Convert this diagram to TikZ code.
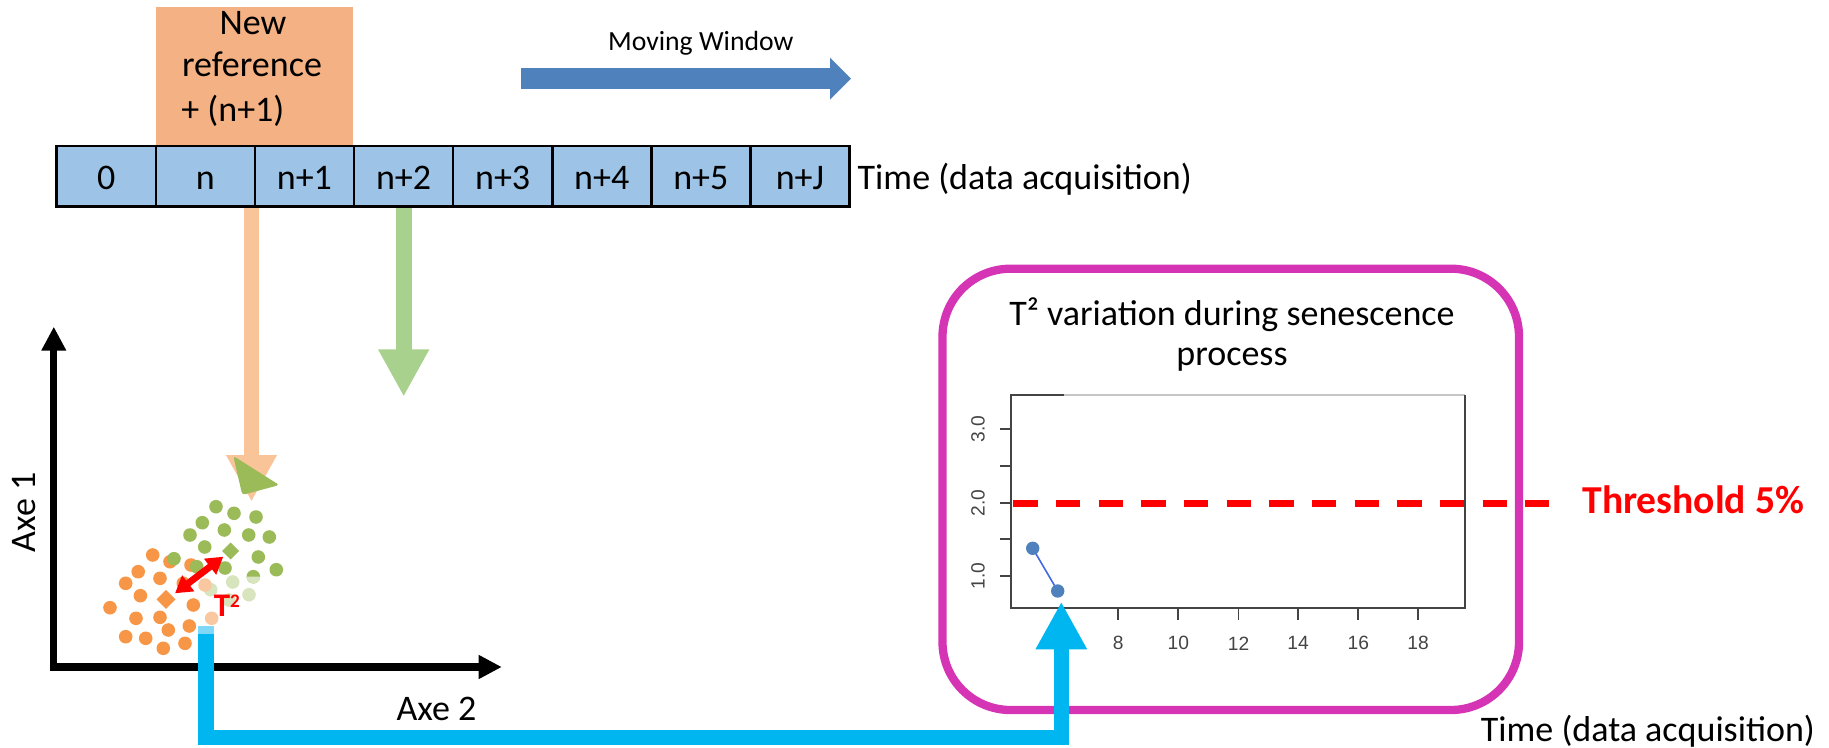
\documentclass[tikz,border=0pt]{standalone}
\usepackage{fontspec}
\setmainfont{Carlito}
\newfontfamily\plotfont{Liberation Sans}
\usetikzlibrary{arrows.meta}
\definecolor{cellblue}{RGB}{157,195,230}
\definecolor{refor}{RGB}{244,177,131}
\definecolor{movblue}{RGB}{79,129,189}
\definecolor{arrowor}{RGB}{248,196,152}
\definecolor{arrowgr}{RGB}{169,209,142}
\definecolor{dotor}{RGB}{247,150,70}
\definecolor{dotgr}{RGB}{155,187,89}
\definecolor{dotlg}{RGB}{215,228,189}
\definecolor{dotpe}{RGB}{250,200,160}
\definecolor{cyanc}{RGB}{0,182,240}
\definecolor{cyanl}{RGB}{128,216,248}
\definecolor{magc}{RGB}{213,53,180}
\definecolor{ptblue}{RGB}{79,129,189}
\definecolor{lineblue}{RGB}{65,105,225}
\definecolor{frameg}{RGB}{68,68,68}
\begin{document}
\begin{tikzpicture}[x=0.5pt,y=-0.5pt,
  txt/.style={inner sep=0pt, font=\fontsize{18}{20}\selectfont},
  cell/.style={draw=black, line width=1.3pt, fill=cellblue, minimum width=49.55pt,
    minimum height=30.35pt, inner sep=0pt, text height=13pt, text depth=0pt,
    font=\fontsize{18}{20}\selectfont},
  plotlbl/.style={inner sep=0pt, text=frameg, font=\plotfont\fontsize{9.6}{11}\selectfont},
  dot/.style={radius=3.4pt},
]
\useasboundingbox (0,0) rectangle (1829,748);

% ---------- orange "new reference" box
\node[fill=refor, minimum width=98.35pt, minimum height=69.65pt, inner sep=0pt] (newref) at (254.35,76.35) {};
\node[txt, anchor=base] (l1) at (253,35) {New};
\node[txt, anchor=base] (l2) at (252,77) {reference};
\node[txt, anchor=base west] (l3) at (181,122) {+ (n+1)};

% ---------- moving window
\node[inner sep=0pt, font=\fontsize{13.85}{16}\selectfont, anchor=base] (mwtxt) at (700.8,51) {Moving Window};
\coordinate (mwa) at (520.7,78.65);
\coordinate (mwb) at (851,78.65);
\draw[movblue, line width=10.35pt, -{Triangle[length=10.5pt,width=20.35pt]}] (mwa) -- (mwb);

% ---------- vertical arrows from the time line
\coordinate (oa) at (251.5,206.7);
\coordinate (ob) at (251.5,501.7);
\draw[arrowor, line width=7.85pt, -{Triangle[length=23.35pt,width=23.75pt]}] (oa) -- (ob);
\coordinate (ga) at (403.7,206.7);
\coordinate (gb) at (403.7,396.7);
\draw[arrowgr, line width=8pt, -{Triangle[length=23.7pt,width=23.85pt]}] (ga) -- (gb);

% ---------- time cells
\node[cell] (c0) at (106.25,176.35) {0};
\node[cell] (c1) at (205.35,176.35) {n};
\node[cell] (c2) at (304.45,176.35) {n+1};
\node[cell] (c3) at (403.55,176.35) {n+2};
\node[cell] (c4) at (502.65,176.35) {n+3};
\node[cell] (c5) at (601.75,176.35) {n+4};
\node[cell] (c6) at (700.85,176.35) {n+5};
\node[cell] (c7) at (799.95,176.35) {n+J};
\node[txt, anchor=base west] (time1) at (857.3,189.3) {Time (data acquisition)};

% ---------- green triangle on the orange arrow head
\fill[dotgr, rounded corners=1.5pt] (233.3,456) -- (279.3,485) -- (242.3,495) -- cycle;

% ---------- axes
\coordinate (ytip) at (53.8,326.7);
\coordinate (orig) at (53.8,667);
\coordinate (xtip) at (501.8,667);
\draw[line width=3.6pt, {Triangle[length=12pt,width=11.7pt]}-{Triangle[length=11.6pt,width=11.3pt]}] (ytip) -- (orig) -- (xtip);
\node[txt, rotate=90] (axe1) at (24,512.5) {Axe 1};
\node[txt, anchor=base] (axe2) at (436.5,720) {Axe 2};

% ---------- scatter
\foreach \p in {(152.7,555),(170,561.7),(191,565),(138.2,571.7),(125.7,583.3),(160,578.3),
  (183.3,583.3),(140.4,595.7),(110,607.7),(193.3,605),(136,618.3),(160,617.3),(189.3,626),
  (125.7,636.7),(145.7,638.3),(168.3,630),(163.3,648.3),(185,643.3)}
  \fill[dotor] \p circle[dot];
\foreach \p in {(216,506.7),(234,513.3),(256,517),(202.3,522.7),(224.3,530),(248.7,535),
  (269.3,537),(190,535),(204.7,547),(258.3,557),(276.3,569.7),(174,558.7),(225,568),
  (196.7,566.7)}
  \fill[dotgr] \p circle[dot];
\fill[dotgr] (253.3,576.7) circle[dot];
\fill[dotlg] (253.3,576.7) ++(-3.4pt,0) arc[start angle=180,end angle=360,radius=3.4pt] -- cycle;
\foreach \p in {(232.7,582),(249,594.7),(210.7,589.7),(229,600)}
  \fill[dotlg] \p circle[dot];
\foreach \p in {(205,585),(211.7,618.3)}
  \fill[dotpe] \p circle[dot];
\fill[dotor] (166,599.3) +(-9.5,0) -- +(0,-9.5) -- +(9.5,0) -- +(0,9.5) -- cycle;
\fill[dotgr] (230.7,551) +(-8.5,0) -- +(0,-8.5) -- +(8.5,0) -- +(0,8.5) -- cycle;
\coordinate (ra) at (175,593.3);
\coordinate (rb) at (223.3,556.7);
\draw[red, line width=3.4pt, {Triangle[length=8.3pt,width=9.5pt]}-{Triangle[length=8.3pt,width=9.5pt]}] (ra) -- (rb);
\node[inner sep=0pt, anchor=base west, text=red, font=\bfseries\fontsize{16.5}{18}\selectfont] (t2) at (213.5,616.7) {T\raisebox{4.7pt}{\fontsize{9.6}{10}\selectfont 2}};

% ---------- T2 panel
\node[draw=magc, line width=4.15pt, rounded corners=34pt, minimum width=288.25pt,
  minimum height=220.65pt, inner sep=0pt] (panel) at (1230.75,489.35) {};
\node[txt, anchor=base] (ttl1) at (1232,326) {T² variation during senescence};
\node[txt, anchor=base] (ttl2) at (1232,365) {process};

% plot frame
\draw[gray!45, line width=0.8pt] (1064,395) -- (1465,395);
\draw[frameg, line width=0.85pt] (1064,395) -- (1011,395) -- (1011,608.3) -- (1465,608.3) -- (1465,395);
\foreach \y/\l in {429.3/3.0,502.7/2.0,576/1.0}
  \node[plotlbl, rotate=90] at (978,\y) {\l};
\foreach \y in {429.3,466.3,502.7,539.3,576}
  \draw[frameg, line width=0.85pt] (1000,\y) -- (1011,\y);
\foreach \x/\l in {1118.3/8,1178.3/10,1238.5/12,1298.1/14,1358.3/16,1418/18}
  {\draw[frameg, line width=0.85pt] (\x,608.3) -- (\x,620);
   \node[plotlbl] at (\x,643.3) {\l};}
\coordinate (p1) at (1032.7,548.3);
\coordinate (p2) at (1057.7,591);
\draw[lineblue, line width=0.8pt] (p1) -- (p2);
\fill[ptblue] (p1) circle[radius=3.35pt];
\fill[ptblue] (p2) circle[radius=3.35pt];

% threshold
\coordinate (tha) at (1013.3,503.7);
\coordinate (thb) at (1549,503.7);
\draw[red, line width=3.25pt, dash pattern=on 12.25pt off 9.08pt] (tha) -- (thb);
\node[inner sep=0pt, anchor=base west, text=red, font=\bfseries\fontsize{19.8}{22}\selectfont] (thr) at (1582,513.3) {Threshold 5\%};

% ---------- cyan connector
\coordinate (cs) at (205.9,626);
\coordinate (cb) at (1061.3,737.5);
\coordinate (ct) at (1061.3,601.7);
\draw[cyanc, line width=7.7pt, -{Triangle[length=23.8pt,width=24pt]}] (cs) |- (cb) -- (ct);
\fill[cyanl] (198.2,626) rectangle (213.6,634);

\node[txt, anchor=base west] (time2) at (1480.5,741.7) {Time (data acquisition)};
\end{tikzpicture}
\end{document}
